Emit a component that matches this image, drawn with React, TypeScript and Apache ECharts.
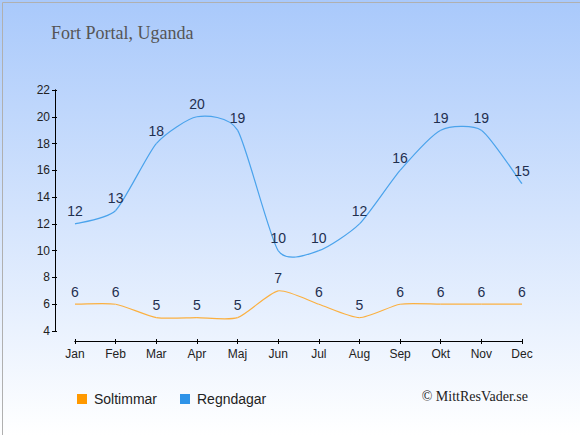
import React, { useEffect, useRef } from "react";
import * as echarts from "echarts";

const months = ["Jan", "Feb", "Mar", "Apr", "Maj", "Jun", "Jul", "Aug", "Sep", "Okt", "Nov", "Dec"];
const soltimmar = [6, 6, 5, 5, 5, 7, 6, 5, 6, 6, 6, 6];
const regndagar = [12, 13, 18, 20, 19, 10, 10, 12, 16, 19, 19, 15];
const yTicks = { min: 4, max: 22, interval: 2 };

const FONT = "Liberation Sans, Arial, sans-serif";
const SERIF = "Liberation Serif, Georgia, serif";

function splineSeries(name: string, values: number[], color: string) {
  const k = 0.65;
  return {
    name,
    type: "custom",
    coordinateSystem: "cartesian2d",
    xAxisIndex: 0,
    yAxisIndex: 0,
    silent: true,
    z: 2,
    data: values.map((v, i) => [i, v]),
    encode: { x: 0, y: 1 },
    renderItem: (params: any, api: any) => {
      const i = params.dataIndex;
      const n = values.length;
      if (i >= n - 1) return null;
      const idx = [Math.max(i - 1, 0), i, i + 1, Math.min(i + 2, n - 1)];
      const p = idx.map((j) => api.coord([j, values[j]]));
      const [p0, p1, p2, p3] = p;
      const cp1x = p1[0] + ((p2[0] - p0[0]) / 6) * k;
      const cp1y = p1[1] + ((p2[1] - p0[1]) / 6) * k;
      const cp2x = p2[0] - ((p3[0] - p1[0]) / 6) * k;
      const cp2y = p2[1] - ((p3[1] - p1[1]) / 6) * k;
      return {
        type: "bezierCurve",
        shape: {
          x1: p1[0], y1: p1[1],
          x2: p2[0], y2: p2[1],
          cpx1: cp1x, cpy1: cp1y,
          cpx2: cp2x, cpy2: cp2y,
        },
        style: { stroke: color, lineWidth: 1.2, fill: "none" },
      };
    },
  };
}

export default function App() {
  const ref = useRef<HTMLDivElement>(null);
  useEffect(() => {
    document.body.style.margin = "0";
    const chart = echarts.init(ref.current!, null, { renderer: "svg" });
    const labelStyle = {
      show: true,
      position: "top" as const,
      distance: 5,
      color: "#1f2f4f",
      fontSize: 14,
      fontFamily: FONT,
    };
    const baseX = {
      type: "category",
      data: months,
      boundaryGap: false,
      offset: 10,
      position: "bottom",
      axisLine: { lineStyle: { color: "#000", width: 1 } },
      splitLine: { show: false },
    };
    const baseY = {
      type: "value",
      min: yTicks.min,
      max: yTicks.max,
      interval: yTicks.interval,
      offset: 20,
      position: "left",
      axisLine: { show: true, lineStyle: { color: "#000", width: 1 } },
      splitLine: { show: false },
    };
    chart.setOption({
      animation: false,
      backgroundColor: {
        type: "linear",
        x: 0, y: 0, x2: 0, y2: 1,
        colorStops: [
          { offset: 0, color: "#a9c9fb" },
          { offset: 1, color: "#ffffff" },
        ],
      },
      title: {
        text: "Fort Portal, Uganda",
        left: 46,
        top: 19,
        textStyle: {
          fontFamily: SERIF,
          fontWeight: "normal",
          fontSize: 18,
          color: "#555555",
        },
      },
      grid: { left: 75, right: 58, top: 90, bottom: 104 },
      xAxis: [
        {
          ...baseX,
          axisTick: { alignWithLabel: true, length: 3, lineStyle: { color: "#000" } },
          axisLabel: { color: "#222", fontSize: 12, fontFamily: FONT, margin: 7 },
        },
        {
          ...baseX,
          axisTick: { alignWithLabel: true, inside: true, length: 2, lineStyle: { color: "#000" } },
          axisLabel: { show: false },
        },
      ],
      yAxis: [
        {
          ...baseY,
          axisTick: { show: true, length: 3, lineStyle: { color: "#000" } },
          axisLabel: { color: "#222", fontSize: 12, fontFamily: FONT, margin: 5 },
        },
        {
          ...baseY,
          axisTick: { show: true, inside: true, length: 2, lineStyle: { color: "#000" } },
          axisLabel: { show: false },
        },
      ],
      legend: {
        left: 72,
        top: 387,
        itemWidth: 10,
        itemHeight: 10,
        itemGap: 23,
        icon: "rect",
        textStyle: { fontSize: 14, color: "#222", fontFamily: FONT, padding: [0, 0, 0, 2] },
        data: [
          { name: "Soltimmar", itemStyle: { color: "#ff9900", opacity: 1 } },
          { name: "Regndagar", itemStyle: { color: "#2e93e8", opacity: 1 } },
        ],
      },
      graphic: [
        {
          type: "text",
          right: 52,
          top: 389,
          style: {
            text: "© MittResVader.se",
            fontFamily: SERIF,
            fontSize: 14,
            fill: "#222",
          },
        },
        {
          type: "rect",
          left: 0,
          top: 0,
          shape: { x: 0.5, y: 0.5, width: 579, height: 434 },
          style: { fill: "none", stroke: "#b0b0b0", lineWidth: 1 },
          silent: true,
        },
      ],
      series: [
        splineSeries("Soltimmar-curve", soltimmar, "#fbb040"),
        splineSeries("Regndagar-curve", regndagar, "#4aa3ec"),
        {
          name: "Soltimmar",
          type: "line",
          data: soltimmar,
          symbol: "circle",
          symbolSize: 1,
          showSymbol: true,
          itemStyle: { color: "rgba(0,0,0,0)" },
          lineStyle: { color: "rgba(0,0,0,0)", width: 0 },
          label: labelStyle,
          z: 3,
        },
        {
          name: "Regndagar",
          type: "line",
          data: regndagar,
          symbol: "circle",
          symbolSize: 1,
          showSymbol: true,
          itemStyle: { color: "rgba(0,0,0,0)" },
          lineStyle: { color: "rgba(0,0,0,0)", width: 0 },
          label: labelStyle,
          z: 3,
        },
      ],
    });
    return () => chart.dispose();
  }, []);
  return <div ref={ref} style={{ width: 580, height: 435, position: "absolute", left: 0, top: 0 }} />;
}
